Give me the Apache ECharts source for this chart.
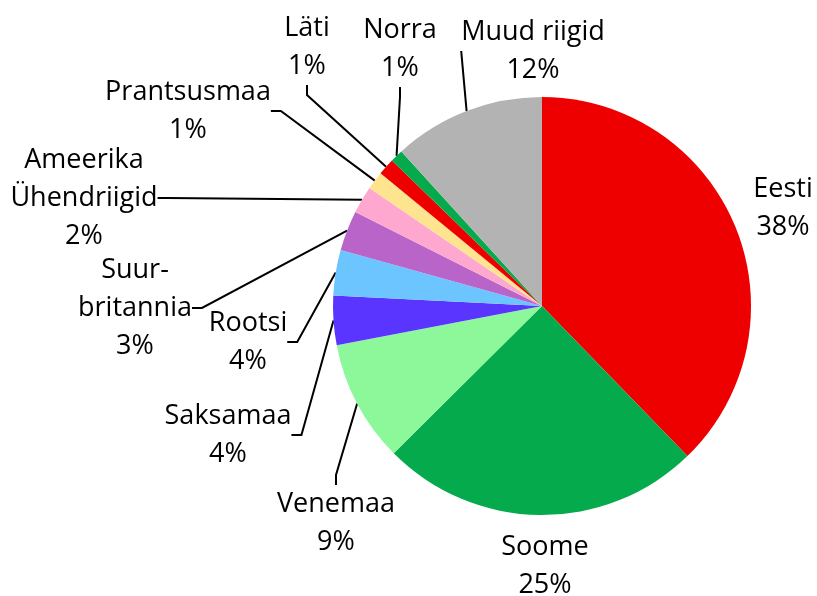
<!DOCTYPE html>
<html>
<head>
<meta charset="utf-8">
<script src="https://cdn.jsdelivr.net/npm/echarts@6/dist/echarts.min.js"></script>
<style>
  html, body { margin: 0; padding: 0; background: #fff; }
  #pieChart { width: 817px; height: 596px; }
</style>
</head>
<body>
<div id="pieChart"></div>
<script>
// riigid (kellaosuti suunas alates ülevalt)
const countries = ['Eesti', 'Soome', 'Venemaa', 'Saksamaa', 'Rootsi', 'Suur-\nbritannia',
  'Ameerika\nÜhendriigid', 'Prantsusmaa', 'Läti', 'Norra', 'Muud riigid'];
// osakaal, %
const shares = [37.6, 24.7, 9.4, 3.8, 3.5, 3.1, 2.1, 1.4, 1.3, 1.0, 11.7];
const colors = ['#ee0000', '#05aa4d', '#8cf89a', '#5a34ff', '#6cc5ff', '#b964c8',
  '#ffa8cf', '#ffe48f', '#ee0000', '#05aa4d', '#b3b3b3'];

// sildi keskpunktid (paigutus)
const labelCenters = [
  [783, 208], [545, 566], [336, 523], [228, 435], [248, 342], [135, 308],
  [84, 198], [188, 111], [307, 47], [400, 49], [533, 51]
];

let pieChart = {
  __dom: null,
  __chart: null,
  __option: {},
  initChart: function () {
    this.__dom = document.getElementById('pieChart');
    this.__chart = echarts.init(this.__dom);
    let data = countries.map(function (name, i) {
      return {
        name: name,
        value: shares[i],
        itemStyle: { color: colors[i] },
        labelLine: { show: i > 1 }
      };
    });
    this.__option = {
      animation: false,
      series: [
        {
          type: 'pie',
          center: [542, 306],
          radius: 209,
          startAngle: 90,
          clockwise: true,
          data: data,
          itemStyle: { borderWidth: 0 },
          label: {
            show: true,
            position: 'outside',
            color: '#000',
            fontFamily: 'Open Sans',
            fontSize: 27,
            lineHeight: 38,
            align: 'center',
            overflow: 'none',
            formatter: function (p) {
              return p.name + '\n' + Math.round(p.value) + '%';
            }
          },
          labelLine: {
            show: true,
            length: 10,
            length2: 10,
            lineStyle: { color: '#000', width: 2 }
          },
          labelLayout: function (params) {
            let c = labelCenters[params.dataIndex];
            return {
              x: c[0],
              y: c[1],
              align: 'center',
              verticalAlign: 'middle'
            };
          }
        }
      ]
    };
    this.__chart.setOption(this.__option);
  }
};

pieChart.initChart();
</script>
</body>
</html>
